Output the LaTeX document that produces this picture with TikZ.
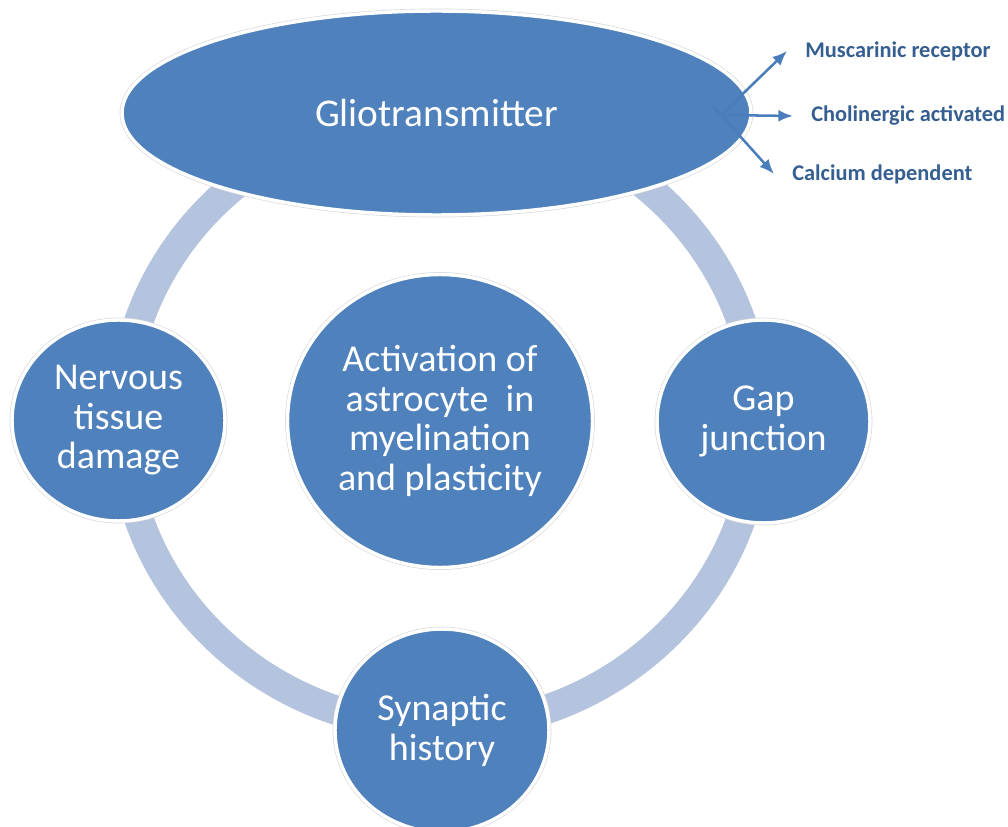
\documentclass[tikz,border=0pt]{standalone}
\usepackage{fontspec}
\setmainfont{Carlito}
\usetikzlibrary{arrows.meta,shapes.geometric}

\definecolor{cyclefill}{RGB}{79,129,189}
\definecolor{ringblue}{RGB}{180,195,222}
\definecolor{labelblue}{RGB}{54,95,145}
\definecolor{arrowblue}{RGB}{74,126,187}

\tikzset{
  bubble/.style={ellipse, fill=cyclefill, draw=white, line width=2.6pt,
    preaction={draw=black!15, line width=3.6pt},
    text=white, align=center, inner sep=0pt,
    font=\fontsize{28.5}{29.6}\selectfont},
  sidelabel/.style={anchor=west, text=labelblue, inner xsep=13.5pt, inner ysep=0pt,
    font=\bfseries\fontsize{16.8}{19}\selectfont},
  pointer/.style={draw=arrowblue, line width=1.9pt, -{Latex[length=11pt,width=9pt]}}
}

\begin{document}
\begin{tikzpicture}[x=0.75pt,y=0.75pt,yscale=-1,xscale=1]
\useasboundingbox (0,0) rectangle (1008,827);

%Shape: Ring
\draw [ringblue, line width=22pt] (440,420) ellipse [x radius=318, y radius=307];

% Bubbles
\node [bubble, minimum width=471.75pt, minimum height=153pt, font=\fontsize{29.5}{31}\selectfont] (glio) at (436.5,113) {Gliotransmitter};
\node [bubble, minimum width=228.75pt, minimum height=219.75pt] (astro) at (440,421) {Activation of\\astrocyte\ \ in\\myelination\\and plasticity};
\node [bubble, minimum width=159.75pt, minimum height=150.75pt] (nerve) at (118.5,420.5) {Nervous\\tissue\\damage};
\node [bubble, minimum width=159.75pt, minimum height=152.25pt] (gap) at (763.5,421.5) {Gap\\junction};
\node [bubble, minimum width=160.5pt, minimum height=152.25pt] (syn) at (442,730.5) {Synaptic\\history};

% Side labels
\coordinate (hub) at (721,115);
\node [sidelabel] (musc) at (787,51) {Muscarinic receptor};
\node [sidelabel] (chol) at (793,116) {Cholinergic activated};
\node [sidelabel] (calc) at (774,174) {Calcium dependent};

\draw [pointer] (hub) -- (musc.west);
\draw [pointer] (hub) -- (chol.west);
\draw [pointer, shorten <=-10pt] (hub) -- (calc.west);
\end{tikzpicture}
\end{document}
